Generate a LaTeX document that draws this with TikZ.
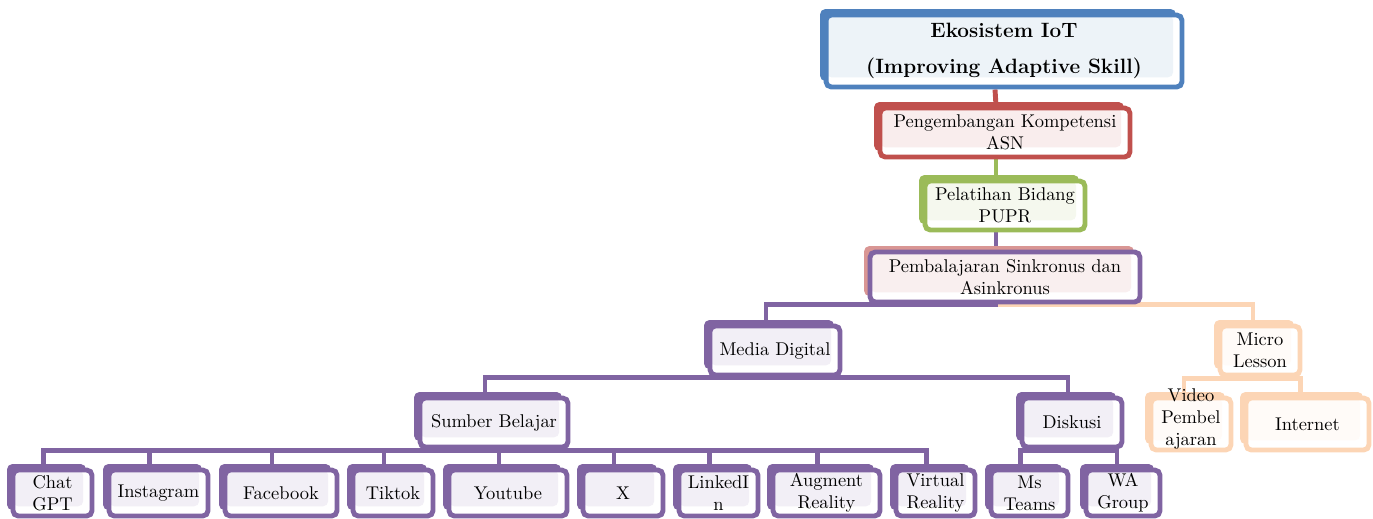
\documentclass[tikz,border=0pt]{standalone}
\usepackage{xcolor}
\usepackage{tikz}
\usetikzlibrary{shadows,backgrounds}

\definecolor{cBlue}{HTML}{4F81BD}
\definecolor{cRed}{HTML}{C0504D}
\definecolor{cGreen}{HTML}{9BBB59}
\definecolor{cPurple}{HTML}{8064A2}
\definecolor{cPeach}{HTML}{FCD5B5}
\definecolor{cRose}{HTML}{D99694}

\tikzset{
  front/.style={draw=#1, fill=white, line width=2.8pt, rounded corners=3pt,
    align=center, inner sep=1pt, font=\fontsize{10.5}{12.5}\selectfont,
    tint=#1!10},
  tint/.style={path picture={\fill[#1] (path picture bounding box.north west)
      rectangle ([xshift=-5pt,yshift=5.5pt]path picture bounding box.south east);}},
  back/.style={general shadow={shadow xshift=-3.4pt, shadow yshift=3.4pt, fill=#1, draw=none}},
  box/.style={back=#1, front=#1},
  link/.style={draw=#1, line width=2.8pt},
}

\begin{document}
\begin{tikzpicture}[x=0.02cm, y=-0.02cm]
\useasboundingbox (0,0) rectangle (1373,518);
	\node[box=cBlue, minimum width=7.12cm, minimum height=1.44cm,
	  font=\fontsize{11.8}{20.5}\selectfont\bfseries] at (1004,51) (title) {Ekosistem IoT\\(Improving Adaptive Skill)};
	\node[box=cRed, minimum width=5cm, minimum height=0.98cm] at (1005,132.5) (peng) {Pengembangan Kompetensi\\ASN};
	\node[box=cGreen, minimum width=3.2cm, minimum height=0.98cm] at (1005,205.5) (pelat) {Pelatihan Bidang\\PUPR};
	\node[back=cRose, front=cPurple, tint=cRose!15, minimum width=5.4cm, minimum height=1cm] at (1005,277) (pemb) {Pembalajaran Sinkronus dan\\Asinkronus};
	\node[box=cPurple, minimum width=2.6cm, minimum height=0.98cm] at (775,350.5) (media) {Media Digital};
	\node[box=cPeach, minimum width=1.6cm, minimum height=0.98cm] at (1260,350.5) (micro) {Micro\\Lesson};
	\node[box=cPurple, minimum width=2.96cm, minimum height=0.98cm] at (494,422.5) (sumber) {Sumber Belajar};
	\node[box=cPurple, minimum width=2cm, minimum height=0.98cm] at (1072,422.5) (diskusi) {Diskusi};
	\node[box=cPeach, minimum width=1.6cm, minimum height=1.04cm] at (1191,424) (video) {\smash{\begin{tabular}{@{}c@{}}Video\\Pembel\\ajaran\end{tabular}}};
	\node[box=cPeach, minimum width=2.46cm, minimum height=1.04cm] at (1307.5,424) (internet) {Internet};
	% bottom row
	\node[box=cPurple, minimum width=1.58cm, minimum height=0.92cm] at (52.5,493) (chat) {Chat\\GPT};
	\node[box=cPurple, minimum width=1.98cm, minimum height=0.92cm] at (158.5,493) (insta) {Instagram};
	\node[box=cPurple, minimum width=2.24cm, minimum height=0.92cm] at (281,493) (face) {Facebook};
	\node[box=cPurple, minimum width=1.6cm, minimum height=0.92cm] at (393,493) (tiktok) {Tiktok};
	\node[box=cPurple, minimum width=2.36cm, minimum height=0.92cm] at (508,493) (youtube) {Youtube};
	\node[box=cPurple, minimum width=1.6cm, minimum height=0.92cm] at (623,493) (xsite) {X};
	\node[box=cPurple, minimum width=1.58cm, minimum height=0.92cm] at (718.5,493) (linked) {LinkedI\\n};
	\node[box=cPurple, minimum width=2.14cm, minimum height=0.92cm] at (826.5,493) (augment) {Augment\\Reality};
	\node[box=cPurple, minimum width=1.58cm, minimum height=0.92cm] at (935.5,493) (virtual) {Virtual\\Reality};
	\node[box=cPurple, minimum width=1.54cm, minimum height=0.92cm] at (1029.5,493) (teams) {Ms\\Teams};
	\node[box=cPurple, minimum width=1.48cm, minimum height=0.92cm] at (1123,493) (wa) {WA\\Group};
\begin{scope}[on background layer]
	\draw[link=cRed] ([xshift=-1.8mm]title.south) -- ([xshift=-1.8mm]peng.north);
	\draw[link=cGreen] ([xshift=-1.8mm]peng.south) -- ([xshift=-1.8mm]pelat.north);
	\draw[link=cPurple] ([xshift=-1.8mm]pelat.south) -- ([xshift=-1.8mm]pemb.north);
	\draw[link=cPeach] ([xshift=-1.8mm]pemb.south) |- ([xshift=-1.4mm,yshift=3.8mm]micro.north) -- ([xshift=-1.4mm]micro.north);
	\draw[link=cPurple] ([xshift=-1.8mm]pemb.south) |- ([xshift=-1.8mm,yshift=3.8mm]media.north) -- ([xshift=-1.8mm]media.north);
	\draw[link=cPurple] ([xshift=-1.8mm]media.south) |- ([xshift=-1.8mm,yshift=3.6mm]sumber.north) -- ([xshift=-1.8mm]sumber.north);
	\draw[link=cPurple] ([xshift=-1.8mm]media.south) |- ([xshift=-0.8mm,yshift=3.6mm]diskusi.north) -- ([xshift=-0.8mm]diskusi.north);
	\draw[link=cPeach] ([xshift=-1.4mm]micro.south) |- ([xshift=-1.4mm,yshift=3.4mm]video.north) -- ([xshift=-1.4mm]video.north);
	\draw[link=cPeach] ([xshift=-1.4mm]micro.south) |- ([xshift=-1.4mm,yshift=3.4mm]internet.north) -- ([xshift=-1.4mm]internet.north);
	\draw[link=cPurple] ([xshift=-1.8mm]sumber.south) |- ([xshift=-1.8mm,yshift=3.4mm]chat.north) -- ([xshift=-1.8mm]chat.north);
	\draw[link=cPurple] ([xshift=-1.8mm]sumber.south) |- ([xshift=-1.8mm,yshift=3.4mm]insta.north) -- ([xshift=-1.8mm]insta.north);
	\draw[link=cPurple] ([xshift=-1.8mm]sumber.south) |- ([xshift=-1.8mm,yshift=3.4mm]face.north) -- ([xshift=-1.8mm]face.north);
	\draw[link=cPurple] ([xshift=-1.8mm]sumber.south) |- ([xshift=-1.8mm,yshift=3.4mm]tiktok.north) -- ([xshift=-1.8mm]tiktok.north);
	\draw[link=cPurple] ([xshift=-1.8mm]sumber.south) |- ([xshift=-1.8mm,yshift=3.4mm]youtube.north) -- ([xshift=-1.8mm]youtube.north);
	\draw[link=cPurple] ([xshift=-1.8mm]sumber.south) |- ([xshift=-1.8mm,yshift=3.4mm]xsite.north) -- ([xshift=-1.8mm]xsite.north);
	\draw[link=cPurple] ([xshift=-1.8mm]sumber.south) |- ([xshift=-1.8mm,yshift=3.4mm]linked.north) -- ([xshift=-1.8mm]linked.north);
	\draw[link=cPurple] ([xshift=-1.8mm]sumber.south) |- ([xshift=-1.8mm,yshift=3.4mm]augment.north) -- ([xshift=-1.8mm]augment.north);
	\draw[link=cPurple] ([xshift=-1.8mm]sumber.south) |- ([xshift=-1.8mm,yshift=3.4mm]virtual.north) -- ([xshift=-1.8mm]virtual.north);
	\draw[link=cPurple] ([xshift=-0.8mm]diskusi.south) |- ([xshift=-1.8mm,yshift=3.4mm]teams.north) -- ([xshift=-1.8mm]teams.north);
	\draw[link=cPurple] ([xshift=-0.8mm]diskusi.south) |- ([xshift=-1.2mm,yshift=3.4mm]wa.north) -- ([xshift=-1.2mm]wa.north);
\end{scope}
\end{tikzpicture}
\end{document}
